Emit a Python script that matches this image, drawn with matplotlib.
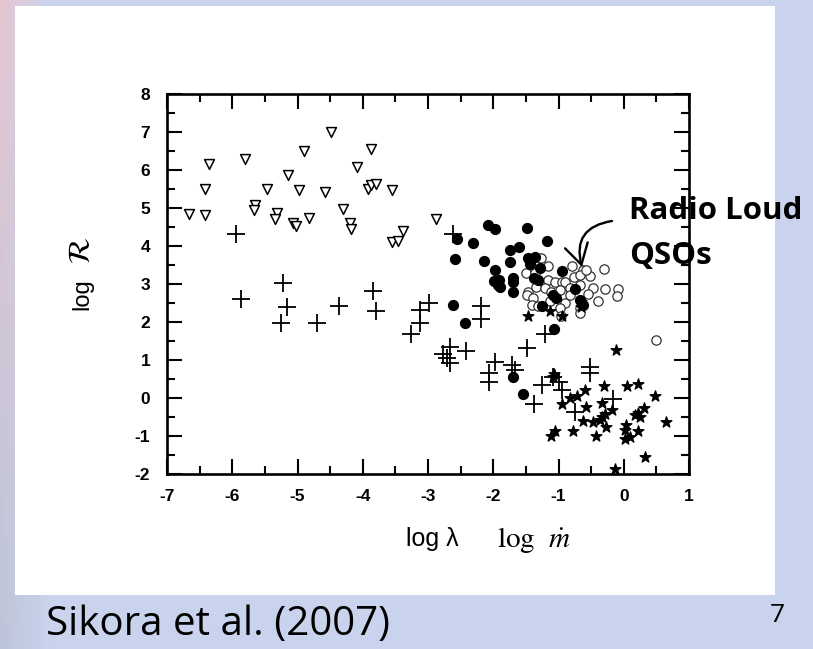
import numpy as np
import matplotlib
matplotlib.use("Agg")
import matplotlib.pyplot as plt
from matplotlib.patches import Rectangle
from matplotlib.ticker import MultipleLocator

plt.rcParams['axes.unicode_minus'] = False
plt.rcParams['mathtext.fontset'] = 'stix'

# open down-triangles
tri_x = [-6.67, -6.41, -6.42, -6.36, -5.80, -5.65, -5.67, -5.47, -5.32, -5.34, -5.15,
         -5.07, -5.02, -4.97, -4.90, -4.83, -4.58, -4.49, -4.31, -4.19, -4.18, -4.09,
         -3.92, -3.87, -3.88, -3.80, -3.55, -3.55, -3.46, -3.38, -2.88]
tri_y = [4.83, 4.82, 5.49, 6.16, 6.28, 5.07, 4.95, 5.49, 4.86, 4.70, 5.87,
         4.61, 4.53, 5.48, 6.49, 4.75, 5.43, 7.00, 4.98, 4.61, 4.46, 6.07,
         5.51, 6.54, 5.61, 5.64, 5.47, 4.10, 4.14, 4.39, 4.70]

# plus signs
plus_x = [-5.94, -2.61, -5.22, -5.87, -5.16, -5.26, -4.70, -4.36, -3.84, -3.80, -3.26,
          -3.12, -3.12, -2.98, -2.77, -2.67, -2.71, -2.67, -2.41, -2.19, -2.19, -1.97,
          -2.06, -2.06, -1.72, -1.67, -1.49, -1.21, -1.37, -1.26, -1.08, -1.00, -0.94,
          -0.75, -0.52, -0.52, -0.17]
plus_y = [4.32, 4.32, 3.02, 2.60, 2.40, 1.98, 1.98, 2.43, 2.82, 2.29, 1.68,
          1.97, 2.32, 2.51, 1.16, 1.33, 1.04, 0.91, 1.25, 2.42, 2.07, 0.96,
          0.67, 0.43, 0.87, 0.75, 1.31, 1.68, -0.16, 0.34, 0.55, 0.43, 0.22,
          -0.36, 0.81, 0.67, -0.03]

# filled circles
fc_x = [-2.08, -1.97, -1.48, -2.56, -2.31, -1.18, -1.75, -1.61, -2.58, -2.14, -1.75,
        -1.46, -1.36, -1.43, -1.28, -1.97, -1.70, -1.70, -1.99, -1.91, -1.93, -1.89,
        -1.69, -1.38, -1.31, -0.94, -1.08, -1.04, -0.75, -0.67, -0.63, -1.26, -2.62,
        -2.43, -1.07, -1.69, -1.54]
fc_y = [4.56, 4.44, 4.48, 4.18, 4.08, 4.12, 3.90, 3.97, 3.65, 3.61, 3.59,
        3.68, 3.70, 3.52, 3.41, 3.37, 3.17, 3.05, 3.08, 3.11, 2.97, 2.91,
        2.79, 3.17, 3.10, 3.34, 2.70, 2.62, 2.86, 2.58, 2.45, 2.42, 2.44,
        1.98, 1.81, 0.55, 0.10]

# open circles (radio loud QSOs)
oc_x = [-1.50, -1.27, -1.16, -0.79, -0.62, -0.52, -0.31, -1.36, -1.31, -1.16, -1.05,
        -0.95, -0.90, -0.77, -0.67, -0.67, -0.47, -0.29, -0.09, -0.11, -0.39, -1.46,
        -1.49, -1.39, -1.34, -1.41, -1.31, -1.21, -1.11, -0.98, -0.82, -1.13, -0.90,
        -0.98, -0.96, -0.67, -0.67, -0.58, -0.82, -0.55, 0.49]
oc_y = [3.30, 3.68, 3.48, 3.47, 3.36, 3.21, 3.40, 3.28, 3.09, 3.11, 3.06,
        3.06, 3.06, 3.19, 3.24, 2.97, 2.89, 2.88, 2.87, 2.68, 2.56, 2.80,
        2.71, 2.62, 2.93, 2.45, 2.42, 2.89, 2.80, 2.84, 2.89, 2.54, 2.49,
        2.36, 2.15, 2.36, 2.24, 3.37, 2.70, 2.75, 1.52]

# stars
st_x = [-0.12, -1.07, -1.09, -0.31, 0.05, 0.22, 0.48, -0.59, -0.71, -0.83, -0.94,
        -0.58, -0.34, -0.18, -0.29, -0.34, -0.37, -0.62, -0.47, -0.27, -0.78, -0.42,
        -1.06, -1.12, 0.04, 0.02, 0.10, 0.02, 0.22, 0.17, 0.22, 0.25, 0.31,
        0.65, 0.33, -0.13, -1.47, -1.13, -0.94, -0.66, -0.66]
st_y = [1.26, 0.63, 0.55, 0.32, 0.32, 0.37, 0.04, 0.21, 0.05, -0.01, -0.16,
        -0.23, -0.14, -0.32, -0.42, -0.51, -0.58, -0.60, -0.64, -0.77, -0.88, -1.00,
        -0.86, -1.00, -0.71, -0.84, -1.02, -1.09, -0.88, -0.45, -0.40, -0.51, -0.27,
        -0.64, -1.56, -1.88, 2.15, 2.29, 2.16, 2.52, 2.40]

W, H = 813, 649
fig = plt.figure(figsize=(W / 100, H / 100), dpi=100)

# slide background
bg = fig.add_axes([0, 0, 1, 1], zorder=-1)
gx = np.linspace(0, 1, 200)[None, :, None]
gy = np.linspace(0, 1, 160)[:, None, None]
base = np.array([0.79, 0.83, 0.93])
pink = np.array([0.90, 0.78, 0.82])
grey = np.array([0.74, 0.77, 0.85])
w_left = np.clip(1 - gx / 0.06, 0, 1)
edge = pink * (1 - gy) + grey * gy
grad = base * (1 - w_left) + edge * w_left
bg.imshow(grad, extent=[0, W, H, 0], aspect='auto')
bg.add_patch(Rectangle((15, 6), 760, 589, facecolor='white', edgecolor='none'))
bg.set_xlim(0, W)
bg.set_ylim(H, 0)
bg.axis('off')

ax = fig.add_axes([167 / W, 1 - 474 / H, 522 / W, 380 / H])
ax.scatter(tri_x, tri_y, marker='v', s=50, facecolors='white', edgecolors='black',
           linewidths=1.1, zorder=3)
ax.scatter(oc_x, oc_y, marker='o', s=45, facecolors='white', edgecolors='#333333',
           linewidths=0.9, zorder=3)
ax.scatter(fc_x, fc_y, marker='o', s=50, color='black', zorder=4)
ax.scatter(st_x, st_y, marker='*', s=65, color='black', zorder=4)
ax.scatter(plus_x, plus_y, marker='+', s=150, color='black', linewidths=1.3, zorder=5)

ax.set_xlim(-7, 1)
ax.set_ylim(-2, 8)
ax.xaxis.set_major_locator(MultipleLocator(1))
ax.xaxis.set_minor_locator(MultipleLocator(0.5))
ax.yaxis.set_major_locator(MultipleLocator(1))
ax.yaxis.set_minor_locator(MultipleLocator(0.5))
ax.tick_params(which='both', direction='in', top=True, right=True, width=1.5,
               labelsize=12.5)
ax.tick_params(which='major', length=11)
ax.tick_params(which='minor', length=5.8)
ax.tick_params(axis='x', pad=11)
ax.tick_params(axis='y', pad=12)
for lab in ax.get_xticklabels() + ax.get_yticklabels():
    lab.set_fontfamily('Liberation Sans')
    lab.set_fontweight('bold')
for s in ax.spines.values():
    s.set_linewidth(1.9)

# axis labels
fig.text(82 / W, 1 - 294 / H, 'log', rotation=90, fontsize=17,
         fontfamily='Liberation Sans', ha='center', va='center')
fig.text(81 / W, 1 - 251 / H, r'$\mathcal{R}$', rotation=90, fontsize=22,
         ha='center', va='center')
fig.text(406 / W, 1 - 546 / H, 'log λ', fontsize=18, fontfamily='Liberation Sans',
         ha='left', va='baseline')
fig.text(497 / W, 1 - 547 / H, r'$\mathrm{log}\ \ \dot{m}$', fontsize=21,
         ha='left', va='baseline')

# annotation
fig.text(629 / W, 1 - 219 / H, 'Radio Loud', fontfamily='Open Sans', fontweight='bold',
         fontsize=22.5, ha='left', va='baseline')
fig.text(629 / W, 1 - 264 / H, 'QSOs', fontfamily='Open Sans', fontweight='bold',
         fontsize=22.5, ha='left', va='baseline')
ax.annotate('', xy=(582, H - 267), xycoords='figure pixels',
            xytext=(612, H - 221), textcoords='figure pixels',
            arrowprops=dict(arrowstyle='->,head_length=0.6,head_width=0.35',
                            connectionstyle='arc3,rad=0.55', lw=1.7, color='black',
                            mutation_scale=24, shrinkA=0, shrinkB=0),
            annotation_clip=False)

fig.text(46 / W, 1 - 635 / H, 'Sikora et al. (2007)', fontfamily='Open Sans',
         fontsize=29, ha='left', va='baseline')
fig.text(777 / W, 1 - 622 / H, '7', fontfamily='Open Sans', fontsize=19,
         ha='center', va='baseline')

fig.savefig('out.png', dpi=100)
